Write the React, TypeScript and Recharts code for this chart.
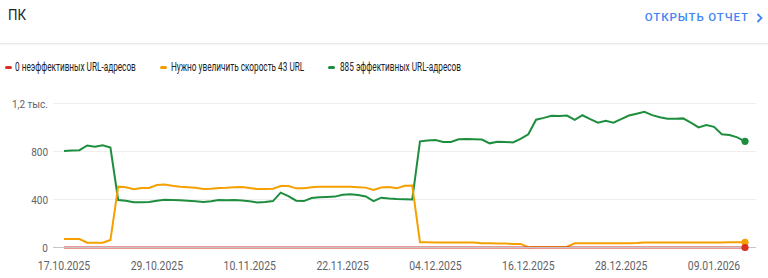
import React from 'react';
import { LineChart, Line, XAxis, YAxis, CartesianGrid } from 'recharts';

const START = Date.UTC(2025, 9, 17);
const DAYS = 89;
const dates: string[] = [];
for (let i = 0; i < DAYS; i++) {
  const d = new Date(START + i * 86400000);
  const dd = String(d.getUTCDate()).padStart(2, '0');
  const mm = String(d.getUTCMonth() + 1).padStart(2, '0');
  dates.push(`${dd}.${mm}.${d.getUTCFullYear()}`);
}

const poor = [
  0, 0, 0, 0, 0, 0, 0, 0, 0, 0,
  0, 0, 0, 0, 0, 0, 0, 0, 0, 0,
  0, 0, 0, 0, 0, 0, 0, 0, 0, 0,
  0, 0, 0, 0, 0, 0, 0, 0, 0, 0,
  0, 0, 0, 0, 0, 0, 0, 0, 0, 0,
  0, 0, 0, 0, 0, 0, 0, 0, 0, 0,
  0, 0, 0, 0, 0, 0, 0, 0, 0, 0,
  0, 0, 0, 0, 0, 0, 0, 0, 0, 0,
  0, 0, 0, 0, 0, 0, 0, 0, 0,
];

const needsImprovement = [
  71, 71, 71, 40, 40, 40, 62,
  507, 502, 485, 496, 496, 521, 524, 515, 507,
  503, 498, 488, 490, 496, 498, 502, 505, 495, 487,
  487, 490, 512, 512, 493, 493, 502, 507, 507, 507,
  507, 507, 503, 499, 479, 500, 505, 493, 515, 517,
  43, 43, 42, 42, 42, 42, 42, 41, 35, 35,
  33, 33, 30, 30, 3, 4, 5, 5, 5, 6,
  35, 35, 35, 35, 35, 36, 36, 36, 37, 42,
  42, 42, 42, 42, 42, 42, 42, 42, 42, 42, 43, 43, 43,
];

const good = [
  805, 808, 811, 850, 840, 852, 833, 396, 390, 378,
  378, 379, 390, 398, 396, 394, 390, 385, 379, 386,
  396, 394, 396, 392, 385, 376, 380, 387, 457, 429,
  390, 387, 412, 418, 421, 424, 440, 443, 437, 425,
  387, 415, 408, 404, 402, 401, 885, 892, 896, 880,
  880, 902, 904, 903, 900, 868, 882, 880, 876, 905,
  943, 1065, 1080, 1097, 1096, 1099, 1064, 1102, 1070, 1040,
  1055, 1040, 1070, 1100, 1115, 1130, 1103, 1085, 1073, 1072,
  1076, 1040, 1001, 1020, 1005, 943, 937, 918, 885,
];

const yTicks = [0, 400, 800, 1200];
const yTickLabels: Record<number, string> = { 0: '0', 400: '400', 800: '800', 1200: '1,2 тыс.' };

const COLORS = { poor: '#d93025', ni: '#f5a000', good: '#1e8e3e' };

const legendItems = [
  { label: '0 неэффективных URL-адресов', color: COLORS.poor, dash: 5, text: 15 },
  { label: 'Нужно увеличить скорость 43 URL', color: COLORS.ni, dash: 160, text: 171 },
  { label: '885 эффективных URL-адресов', color: COLORS.good, dash: 328, text: 340 },
];

const data = dates.map((date, i) => ({
  date,
  poor: poor[i],
  ni: needsImprovement[i],
  good: good[i],
}));

const SX = 0.87;
const FONT = 'Roboto, "Noto Sans", Arial, sans-serif';

const XTick = (props: any) => {
  const { x, y, payload } = props;
  return (
    <text
      x={x}
      y={y}
      dy="0.71em"
      textAnchor="middle"
      fill="#5f6368"
      fontSize={12}
      fontFamily={FONT}
      transform={`translate(${x},0) scale(${SX},1) translate(${-x},0)`}
    >
      {payload.value}
    </text>
  );
};

const YTick = (props: any) => {
  const { x, y, payload } = props;
  return (
    <text
      x={x}
      y={y}
      dy="0.355em"
      textAnchor="end"
      fill="#5f6368"
      fontSize={11.5}
      fontFamily={FONT}
      transform={`translate(${x},0) scale(${SX},1) translate(${-x},0)`}
    >
      {yTickLabels[payload.value] ?? String(payload.value)}
    </text>
  );
};

const lastDot = (color: string) => (props: any) => {
  const { cx, cy, index } = props;
  if (index !== DAYS - 1) return <g key={`d${index}`} />;
  return <circle key={`d${index}`} cx={cx} cy={cy} r={3.6} fill={color} stroke="none" />;
};

const Squeeze = ({ children, origin = 'left', sx = SX }: { children: React.ReactNode; origin?: string; sx?: number }) => (
  <span style={{ display: 'inline-block', transform: `scaleX(${sx})`, transformOrigin: origin, whiteSpace: 'nowrap' }}>
    {children}
  </span>
);

export default function App() {
  return (
    <div
      style={{
        position: 'absolute',
        left: 0,
        top: 0,
        width: 768,
        height: 278,
        background: '#ffffff',
        fontFamily: FONT,
        overflow: 'hidden',
      }}
    >
      <div style={{ position: 'absolute', left: 8, top: 8, fontSize: 14, lineHeight: '14px', color: '#202124' }}>
        <Squeeze sx={0.95}>ПК</Squeeze>
      </div>
      <div
        style={{
          position: 'absolute',
          right: 19,
          top: 11.5,
          fontSize: 11.5,
          lineHeight: '11.5px',
          color: '#4285f4',
          fontWeight: 500,
          letterSpacing: 0.9,
          textAlign: 'right',
        }}
      >
        <Squeeze origin="right" sx={1}>ОТКРЫТЬ ОТЧЕТ</Squeeze>
      </div>
      <svg style={{ position: 'absolute', left: 755, top: 12 }} width={10} height={12}>
        <path d="M2.5 2 L6.5 6 L2.5 10" fill="none" stroke="#4285f4" strokeWidth={1.8} />
      </svg>
      <div style={{ position: 'absolute', left: 0, top: 43, width: 768, height: 1, background: '#e8e8e8' }} />
      <div style={{ position: 'absolute', left: 0, top: 44, width: 768, height: 2, background: 'linear-gradient(#f3f3f3, #ffffff)' }} />
      {legendItems.map((it) => (
        <React.Fragment key={it.label}>
          <div
            style={{
              position: 'absolute',
              left: it.dash,
              top: 65.5,
              width: 7,
              height: 3.5,
              borderRadius: 2,
              background: it.color,
            }}
          />
          <div style={{ position: 'absolute', left: it.text, top: 60.5, fontSize: 12.5, lineHeight: '12.5px', color: '#202124' }}>
            <Squeeze sx={0.658}>{it.label}</Squeeze>
          </div>
        </React.Fragment>
      ))}
      <div style={{ position: 'absolute', left: 0, top: 90 }}>
        <LineChart width={768} height={188} data={data} margin={{ top: 13.5, right: 12, bottom: 0, left: 0 }}>
          <CartesianGrid vertical={false} stroke="#efefef" strokeWidth={1} />
          <XAxis
            dataKey="date"
            interval={11}
            padding={{ left: 11, right: 11 }}
            tickLine={false}
            tickSize={0}
            tickMargin={14}
            height={30.5}
            axisLine={{ stroke: '#c6c6c6', strokeWidth: 1 }}
            tick={<XTick />}
          />
          <YAxis
            domain={[0, 1200]}
            ticks={yTicks}
            width={53}
            axisLine={false}
            tickLine={false}
            tickSize={0}
            tickMargin={5}
            tick={<YTick />}
          />
          <Line
            type="linear"
            dataKey="good"
            stroke={COLORS.good}
            strokeWidth={2}
            dot={lastDot(COLORS.good)}
            activeDot={false}
            isAnimationActive={false}
          />
          <Line
            type="linear"
            dataKey="ni"
            stroke={COLORS.ni}
            strokeWidth={2}
            dot={lastDot(COLORS.ni)}
            activeDot={false}
            isAnimationActive={false}
          />
          <Line
            type="linear"
            dataKey="poor"
            stroke={COLORS.poor}
            strokeWidth={2}
            dot={lastDot(COLORS.poor)}
            activeDot={false}
            isAnimationActive={false}
          />
        </LineChart>
      </div>
    </div>
  );
}
